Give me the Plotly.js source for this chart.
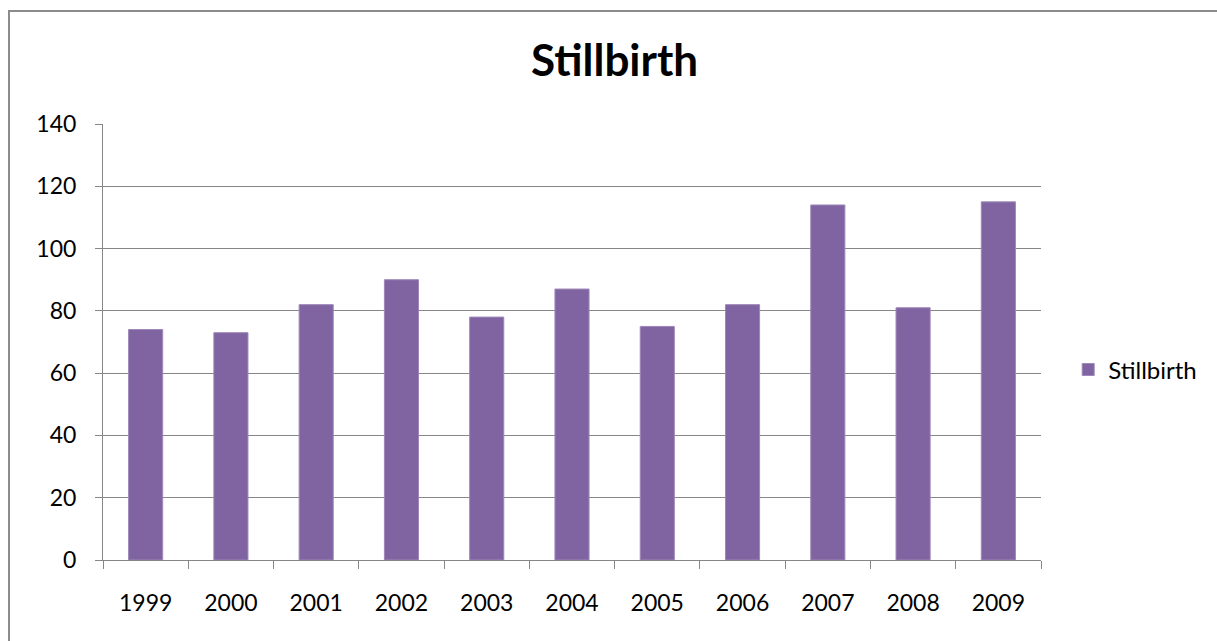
<!DOCTYPE html>
<html>
<head>
<meta charset="utf-8">
<script src="https://cdn.plot.ly/plotly-3.0.1.min.js"></script>
<style>
  html, body { margin: 0; padding: 0; background: #fff; }
  #wrap { position: relative; width: 1217px; height: 641px; overflow: hidden; }
  #chart { width: 1217px; height: 641px; }
  #frame { position: absolute; left: 8px; top: 10px; width: 1300px; height: 700px;
           border: 2px solid #8c8c8c; pointer-events: none; }
</style>
</head>
<body>
<div id="wrap">
  <div id="chart"></div>
  <div id="frame"></div>
</div>
<script>
const years = ['1999','2000','2001','2002','2003','2004','2005','2006','2007','2008','2009'];
const stillbirths = [74, 73, 82, 90, 78, 87, 75, 82, 114, 81, 115];
const yTicks = [0, 20, 40, 60, 80, 100, 120, 140];

const font = 'Lato, "Open Sans", "Liberation Sans", sans-serif';

const trace = {
  type: 'bar',
  name: 'Stillbirth',
  x: years,
  y: stillbirths,
  marker: { color: '#8064a2', line: { color: '#9d88b8', width: 1 } },
  hoverinfo: 'x+y'
};

const layout = {
  width: 1217,
  height: 641,
  margin: { l: 103, r: 176, t: 124, b: 81 },
  paper_bgcolor: '#fff',
  plot_bgcolor: '#fff',
  font: { family: font, size: 23, color: '#000' },
  title: {
    text: '<b>Stillbirth</b>',
    font: { family: font, size: 44, color: '#000' },
    x: 0.505, xanchor: 'center',
    y: 0.905, yanchor: 'middle'
  },
  bargap: 0.6,
  showlegend: true,
  legend: {
    x: 1.029, xanchor: 'left',
    y: 0.436, yanchor: 'middle',
    font: { family: font, size: 24, color: '#000' }
  },
  xaxis: {
    type: 'category',
    tickson: 'boundaries',
    ticks: 'outside',
    ticklen: 8,
    tickcolor: '#868686',
    showline: true,
    linecolor: '#868686',
    linewidth: 1,
    showgrid: false,
    ticklabelstandoff: 22,
    tickfont: { family: font, size: 23, color: '#000' }
  },
  yaxis: {
    range: [0, 140],
    tickvals: yTicks,
    ticktext: yTicks.map(String),
    ticks: 'outside',
    ticklen: 7,
    tickcolor: '#868686',
    showline: true,
    linecolor: '#868686',
    linewidth: 1,
    showgrid: true,
    gridcolor: '#868686',
    gridwidth: 1,
    zeroline: false,
    ticklabelstandoff: 14,
    tickfont: { family: font, size: 23, color: '#000' }
  }
};

Plotly.newPlot('chart', [trace], layout, { displayModeBar: false, staticPlot: true });
</script>
</body>
</html>
